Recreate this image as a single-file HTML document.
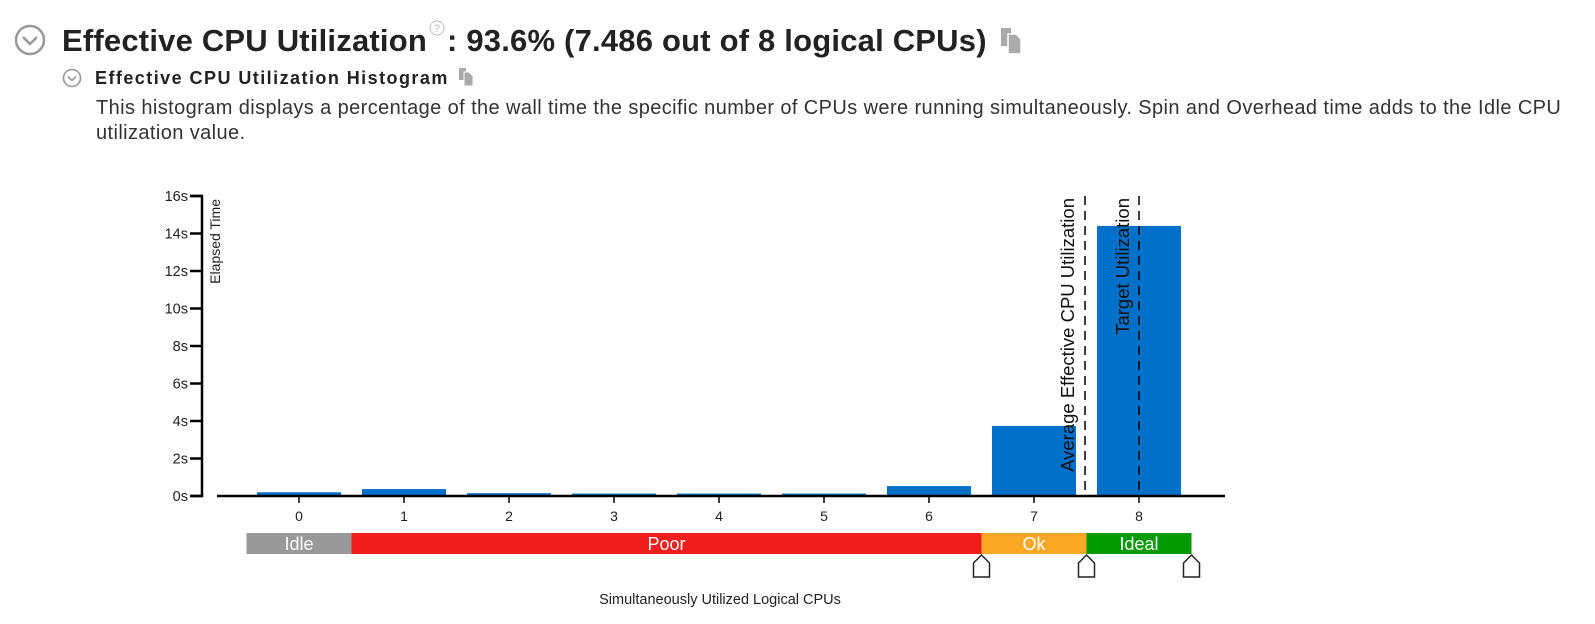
<!DOCTYPE html>
<html><head><meta charset="utf-8"><style>
body{margin:0;width:1595px;height:624px;background:#fff;font-family:"Liberation Sans",Arial,sans-serif;overflow:hidden;position:relative;color:#222}
.abs{position:absolute;white-space:nowrap}
</style></head><body>
<svg class="abs" style="left:14px;top:24px" width="32" height="32"><circle cx="16" cy="16" r="14" fill="none" stroke="#999" stroke-width="2.5"/><path d="M9 13 L16 20 L23 13" fill="none" stroke="#999" stroke-width="2.5"/></svg>
<div class="abs" style="left:62px;top:19px;font-size:31px;font-weight:bold;color:#222;letter-spacing:0.2px">Effective CPU Utilization<svg width="18" height="18" style="vertical-align:14px;margin:0 1px"><circle cx="9" cy="9" r="7" fill="none" stroke="#bbb" stroke-width="1"/><text x="9" y="13" text-anchor="middle" font-size="11" fill="#bbb" font-weight="normal">?</text></svg>: 93.6% (7.486 out of 8 logical CPUs)<svg width="24" height="26" style="margin-left:12px;vertical-align:-3px"><path d="M2 0h10v18H2z" fill="#aaa"/><path d="M9 6h8l5 5v15H9z" fill="#aaa" stroke="#fff" stroke-width="1.5"/></svg></div>
<svg class="abs" style="left:62px;top:68px" width="20" height="20"><circle cx="10" cy="10" r="8.5" fill="none" stroke="#999" stroke-width="1.6"/><path d="M6 8.5 L10 12.5 L14 8.5" fill="none" stroke="#999" stroke-width="1.6"/></svg>
<div class="abs" style="left:95px;top:68px;font-size:18px;font-weight:bold;letter-spacing:1.45px">Effective CPU Utilization Histogram<svg width="16" height="18" style="margin-left:9px;vertical-align:-2px"><path d="M1 0h7v12H1z" fill="#aaa"/><path d="M6 4h5l4 4v10H6z" fill="#aaa" stroke="#fff" stroke-width="1"/></svg></div>
<div class="abs" style="left:96px;top:96px;font-size:20px;line-height:25px;color:#333;letter-spacing:0.4px">This histogram displays a percentage of the wall time the specific number of CPUs were running simultaneously. Spin and Overhead time adds to the Idle CPU<br>utilization value.</div>
<svg id="chart" class="abs" style="left:0;top:0" width="1595" height="624"></svg>
<script>
const categories=["0","1","2","3","4","5","6","7","8"];
const values=[0.2,0.37,0.15,0.13,0.13,0.13,0.53,3.73,14.4];
const yTicks=[0,2,4,6,8,10,12,14,16];
const avgUtil=7.486;
const targetUtil=8;
const bands=[{name:"Idle",from:-0.5,to:0.5,color:"#999999"},{name:"Poor",from:0.5,to:6.5,color:"#f21e1e"},{name:"Ok",from:6.5,to:7.5,color:"#f9a825"},{name:"Ideal",from:7.5,to:8.5,color:"#009a00"}];
const markers=[6.5,7.5,8.5];
const NS="http://www.w3.org/2000/svg";
const svg=document.getElementById('chart');
const x=v=>299+v*105;
const y=v=>496-v*18.75;
function mk(t,a,txt){const e=document.createElementNS(NS,t);for(const k in a)e.setAttribute(k,a[k]);if(txt!==undefined)e.textContent=txt;svg.appendChild(e);return e;}
let ya=mk('path',{d:`M190 ${y(16)}H202V${y(0)}H190`,fill:'none',stroke:'#000','stroke-width':2.5});


yTicks.forEach(t=>{
 const l=mk('line',{x1:190,x2:202,y1:y(t),y2:y(t),stroke:'#000','stroke-width':2.5});
 
 
 const tx=mk('text',{x:188,y:y(t)+5,'text-anchor':'end','font-size':14.5,fill:'#222'},t+'s');
 
 
});
const yt=mk('text',{transform:`translate(220,199) rotate(-90)`,'text-anchor':'end','font-size':14,fill:'#222'},'Elapsed Time');


values.forEach((v,i)=>{
 const r=mk('rect',{x:x(i)-42,y:y(v),width:84,height:y(0)-y(v),fill:'#0070c8'});
 
 
});
const xa=mk('line',{x1:217,x2:1225,y1:y(0),y2:y(0),stroke:'#000','stroke-width':2.5});


categories.forEach((c,i)=>{
 const l=mk('line',{x1:x(i),x2:x(i),y1:y(0),y2:y(0)+7,stroke:'#000','stroke-width':1.5});
 
 
 const t=mk('text',{x:x(i),y:y(0)+25,'text-anchor':'middle','font-size':14,fill:'#222'},c);
 
 
});
const al=mk('line',{x1:x(avgUtil),x2:x(avgUtil),y1:y(16),y2:y(0),stroke:'#000','stroke-width':1.5,'stroke-dasharray':'9,6'});


const at=mk('text',{transform:`translate(${x(avgUtil)-11},198) rotate(-90)`,'text-anchor':'end','font-size':18.5,fill:'#111'},'Average Effective CPU Utilization');


const tl=mk('line',{x1:x(targetUtil),x2:x(targetUtil),y1:y(16),y2:y(0),stroke:'#000','stroke-width':1.5,'stroke-dasharray':'9,6'});


const tt=mk('text',{transform:`translate(${x(targetUtil)-10},198) rotate(-90)`,'text-anchor':'end','font-size':18.5,fill:'#111'},'Target Utilization');


bands.forEach(b=>{
 const r=mk('rect',{x:x(b.from),y:533,width:x(b.to)-x(b.from),height:21,fill:b.color});
 
 
 const t=mk('text',{x:(x(b.from)+x(b.to))/2,y:550,'text-anchor':'middle','font-size':18,fill:'#fff'},b.name);
 
 
});
markers.forEach(m=>{
 const cx=x(m);
 const p=mk('path',{d:`M${cx-8} 577V563L${cx} 555L${cx+8} 563V577Z`,fill:'#fff',stroke:'#222','stroke-width':1.5});
 
 
});
const xt=mk('text',{x:720,y:604,'text-anchor':'middle','font-size':14.5,fill:'#222'},'Simultaneously Utilized Logical CPUs');


</script>
</body></html>
